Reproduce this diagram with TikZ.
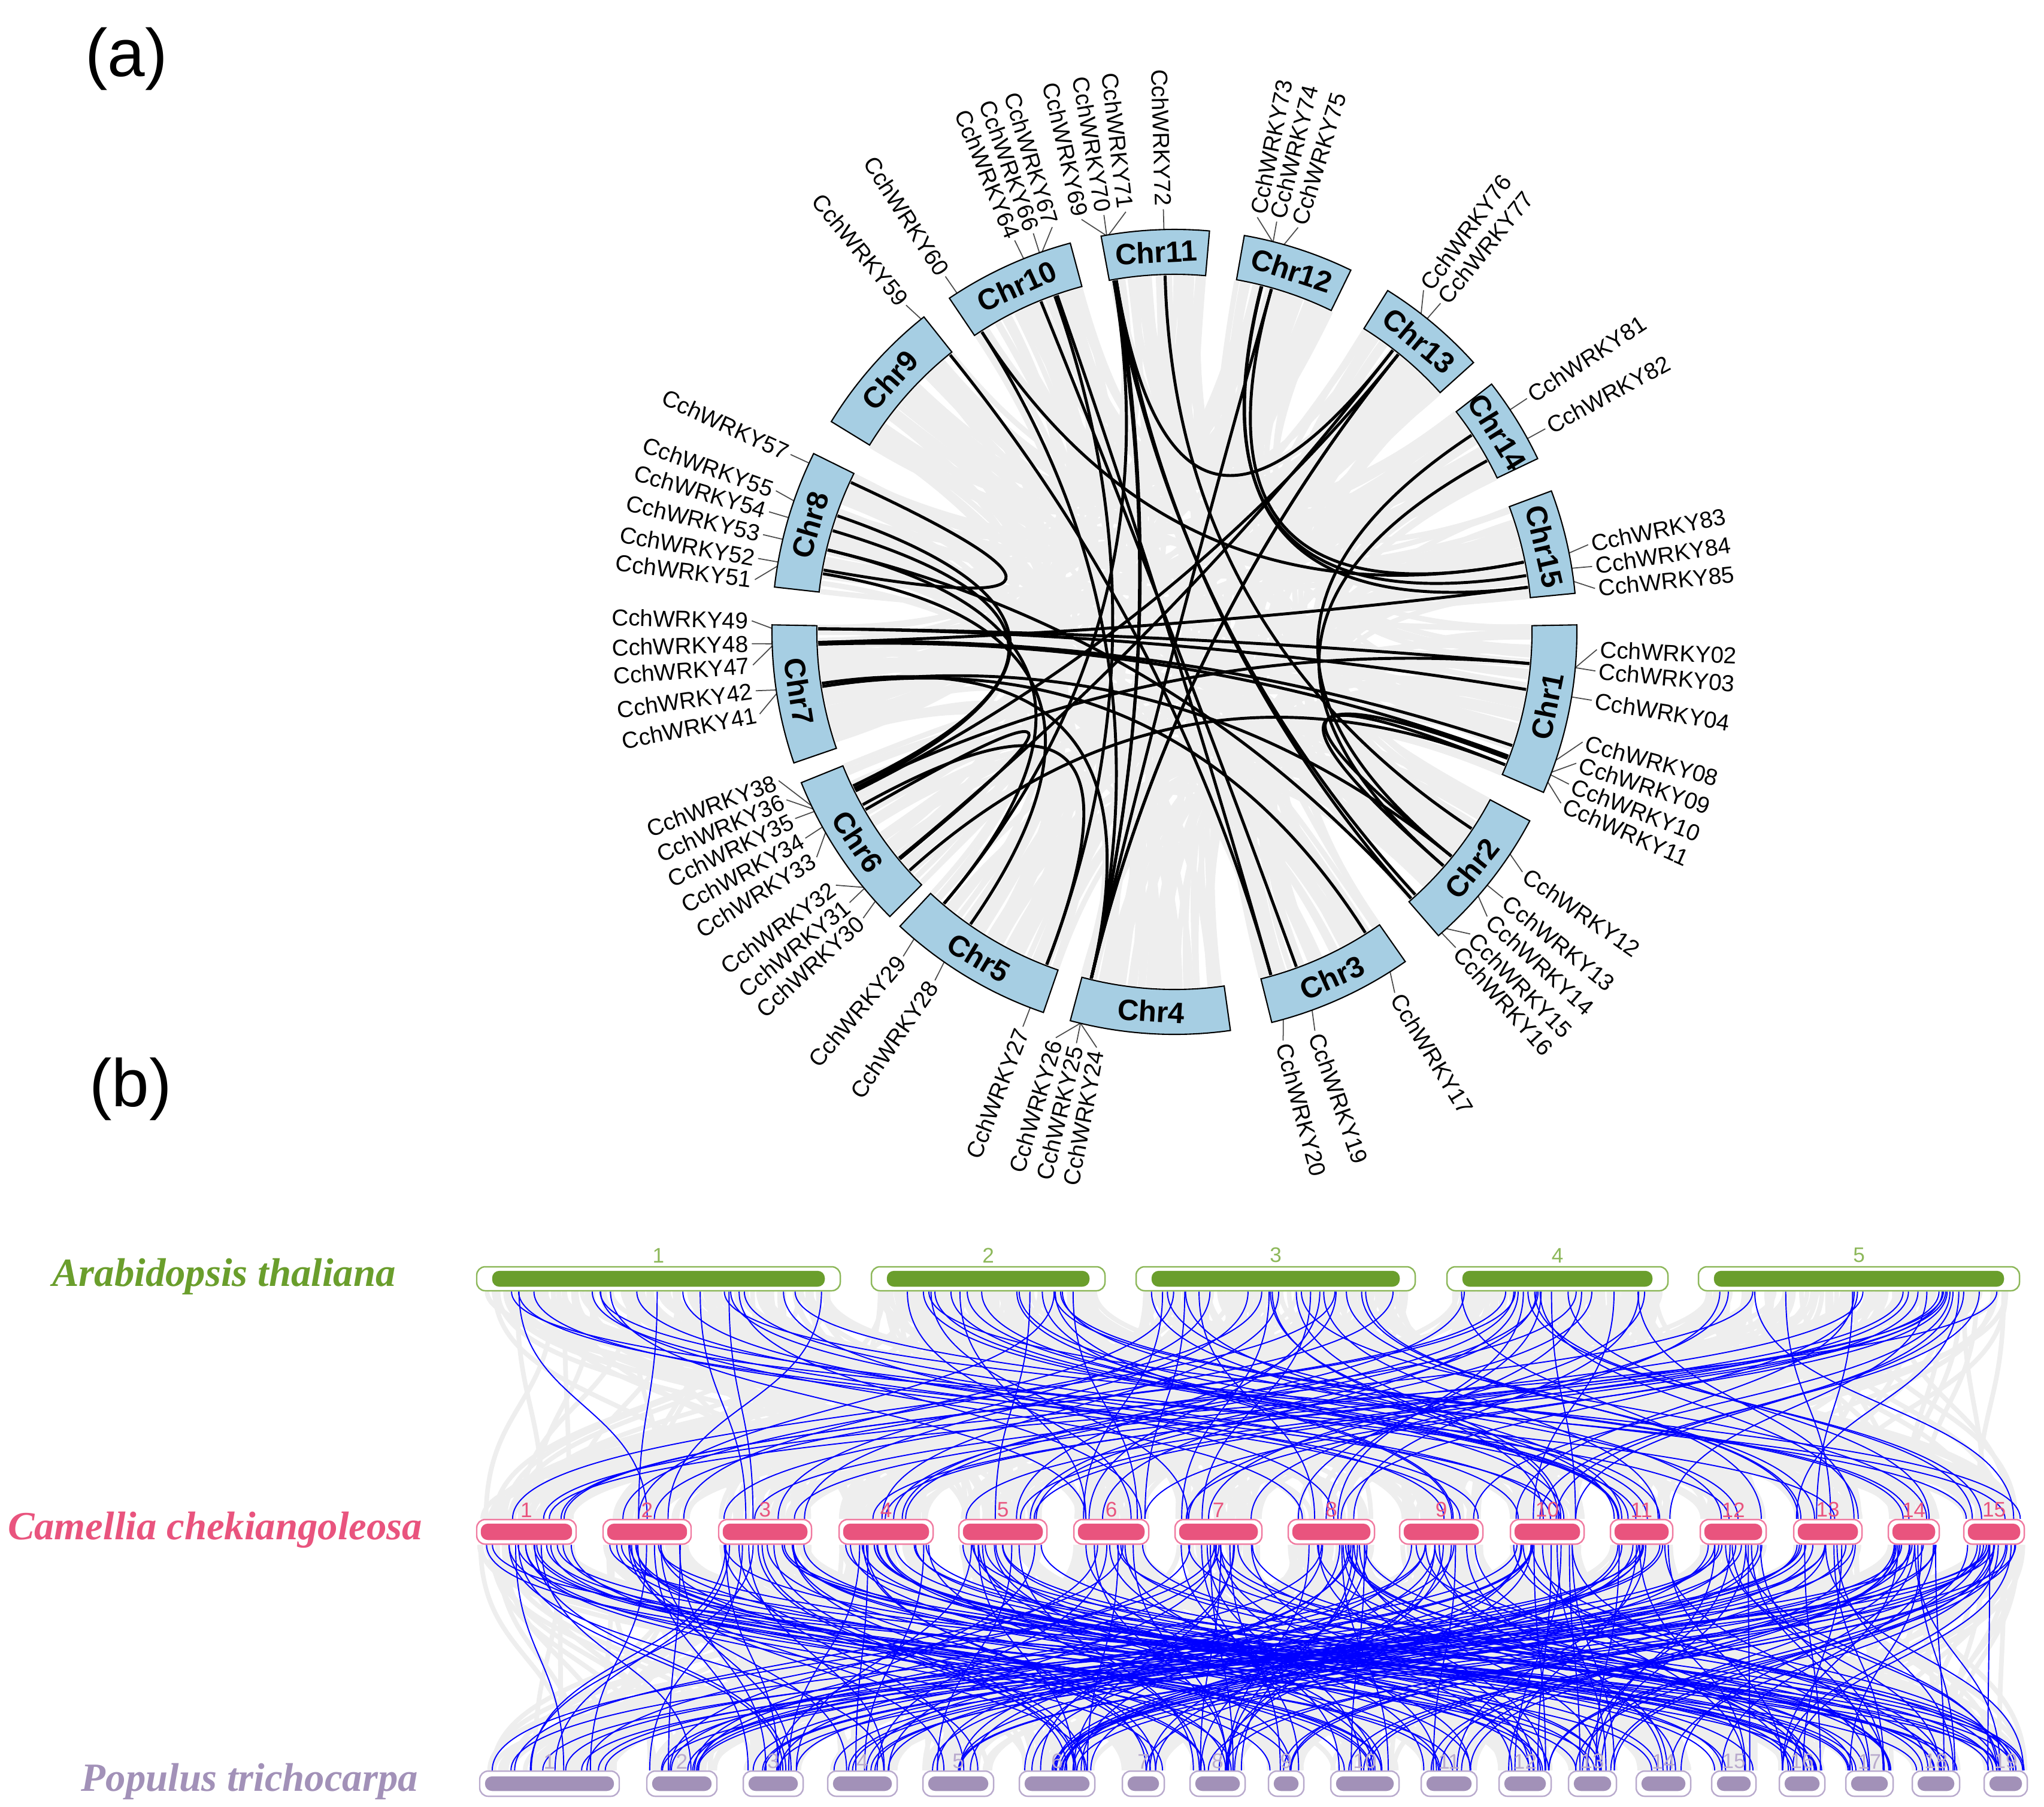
\documentclass[tikz,border=0pt]{standalone}
\usepackage{fontspec}
\setmainfont{Liberation Sans}
\newfontfamily\spfont{Liberation Serif}
\usetikzlibrary{calc,backgrounds}
\definecolor{chrblue}{RGB}{166,206,227}
\definecolor{linkgrey}{RGB}{238,238,238}
\definecolor{atgreen}{RGB}{106,158,44}
\definecolor{atline}{RGB}{141,184,90}
\definecolor{ccpink}{RGB}{233,84,126}
\definecolor{ccline}{RGB}{240,122,160}
\definecolor{ptpurple}{RGB}{162,145,184}
\definecolor{ptline}{RGB}{185,170,205}
\tikzset{
  chrbox/.style={draw=black, line width=0.6pt, fill=chrblue},
  chrtext/.style={font=\bfseries\fontsize{14}{16}\selectfont, inner sep=0pt},
  genetext/.style={font=\fontsize{11}{13}\selectfont, inner sep=1.5pt},
  leader/.style={draw=black!70, line width=0.5pt},
  greyarc/.style={draw=linkgrey, line width=2.5pt},
  duplink/.style={draw=black, line width=1.4pt},
  kbar/.style={draw=#1, line width=0.7pt, fill=white, rounded corners=4pt, inner sep=0pt},
  kin/.style={fill=#1, rounded corners=3.4pt},
  atnum/.style={font=\fontsize{10}{11}\selectfont, inner sep=0pt, text=atline, anchor=south},
  ccnum/.style={font=\fontsize{10}{11}\selectfont, inner sep=0pt, text=ccpink, anchor=south},
  ptnum/.style={font=\fontsize{10}{11}\selectfont, inner sep=0pt, text=ptline, anchor=south},
  species/.style={font=\spfont\bfseries\itshape\fontsize{19}{21}\selectfont, text=#1},
  panel/.style={font=\fontsize{32}{36}\selectfont},
  greysyn/.style={draw=linkgrey, line width=2.2pt},
  bluesyn/.style={draw=blue, line width=0.55pt},
}
\newcommand{\chrom}[3]{%
  \path[chrbox] (#2:5.97) arc[start angle=#2, end angle=#3, radius=5.97]
    -- (#3:6.72) arc[start angle=#3, end angle=#2, radius=6.72] -- cycle;
  \pgfmathsetmacro\chmid{(#2+#3)/2}
  \pgfmathtruncatemacro\chup{sin(\chmid)>0}
  \ifnum\chup=1 \pgfmathsetmacro\chrot{\chmid-90}\else\pgfmathsetmacro\chrot{\chmid+90}\fi
  \node[chrtext, rotate=\chrot] (#1) at (\chmid:6.345) {#1};}
\newcommand{\genelab}[3]{%
  \coordinate (i#3) at (#1:5.95);
  \pgfmathtruncatemacro\glft{cos(#2)<0}
  \ifnum\glft=1
    \node[genetext, anchor=east, rotate=#2+180] (g#3) at (#2:7.06) {CchWRKY#3};
    \path[leader] (#1:6.72) -- (g#3.east);
  \else
    \node[genetext, anchor=west, rotate=#2] (g#3) at (#2:7.06) {CchWRKY#3};
    \path[leader] (#1:6.72) -- (g#3.west);
  \fi}
\def\chrlo{{-23.5,-49,-76,-105,-133,-158,-181,153.7,128.5,105,85,64,42,25.5,5.5}}
\def\chrhi{{1,-28,-55,-82,-109,-135,-161,173.6,148.5,124,100.5,80,58,38,20.5}}

\begin{document}
\begin{tikzpicture}
\begin{pgfonlayer}{background}
\fill[white] (0,0) rectangle (34.13,-30.16);
\end{pgfonlayer}
\useasboundingbox (0,0) rectangle (34.13,-30.16);
\pgfmathsetseed{11}

\node[panel] (pa) at (2.11,-0.98) {(a)};
\node[panel] (pb) at (2.18,-18.18) {(b)};

\begin{scope}[shift={(19.61,-10.55)}]
\coordinate (O) at (0,0);
\foreach \k in {1,...,380}{
  \pgfmathtruncatemacro\ia{random(0,14)}
  \pgfmathtruncatemacro\ib{random(0,14)}
  \pgfmathsetmacro\lka{\chrlo[\ia]+rnd*(\chrhi[\ia]-\chrlo[\ia])}
  \pgfmathsetmacro\lkb{\chrlo[\ib]+rnd*(\chrhi[\ib]-\chrlo[\ib])}
  \path[greyarc] (\lka:5.95) .. controls (\lka:1.98) and (\lkb:1.98) .. (\lkb:5.95);
}

\foreach \ga/\gb/\gn in {-5.1/-2.4/02, -5.1/-5.3/03, -9.3/-9.3/04, -18.6/-15.1/08, -20.4/-18.1/09,
  -20.8/-21.1/10, -21.9/-23.9/11, -33.5/-34.6/12, -39/-39/13, -41/-42.3/14, -47.5/-45.6/15,
  -48.4/-48.3/16, -57.6/-58.6/17, -70/-70.6/19, -74.3/-75.1/20, -103.5/-100.6/24,
  -103.5/-103.4/25, -103.5/-106.3/26, -111/-111/27, -124.9/-124.5/28, -130.3/-129.9/29,
  205.6/200.6/38, 206.1/203.4/36, 206.5/206.2/35, 209/209.2/34, 209.9/212.2/33,
  219.4/216.8/32, 219.6/219.8/31, 222/222.6/30, 179.5/178.5/49, 181.7/181.6/48,
  182/184.5/47, 188.3/188/42, 188.8/191.2/41, 155.2/155.2/57, 161/160.5/55,
  163.5/163.5/54, 166.7/166.7/53, 170/170/52, 170.6/172.9/51, 129/129.4/59,
  122.7/122.8/60, 112/112.2/64, 109.6/109.5/66, 109.2/106.8/67, 99.8/102.7/69,
  99.7/99.6/70, 99.4/96.6/71, 91.5/91.5/72, 75.9/78.7/73, 75.8/76/74, 74.2/73/75,
  52.2/53.9/76, 51.1/51/77, 33.5/33.5/81, 28.7/28.7/82, 11.3/11.9/83, 9.1/8.9/84, 7.2/5.9/85}
  {\genelab{\ga}{\gb}{\gn}}

\foreach \u/\v in {57/52, 55/36, 54/38, 53/29, 51/28, 49/04, 48/08, 47/09, 42/24, 41/13,
  35/77, 34/27, 33/31, 32/76, 30/11, 36/02, 29/69, 27/66, 24/70, 25/60, 26/77, 25/71,
  20/59, 19/64, 17/41, 16/71, 15/69, 14/10, 13/11, 12/72, 16/53, 81/13, 82/14,
  73/84, 74/85, 75/83, 83/60, 03/49, 67/20, 76/71, 77/25, 75/26, 85/48}
  \path[duplink] (i\u) .. controls ($(i\u)!0.6667!(O)$) and ($(i\v)!0.6667!(O)$) .. (i\v);

\chrom{Chr1}{-23.5}{1}
\chrom{Chr2}{-49}{-28}
\chrom{Chr3}{-76}{-55}
\chrom{Chr4}{-105}{-82}
\chrom{Chr5}{-133}{-109}
\chrom{Chr6}{-158}{-135}
\chrom{Chr7}{-181}{-161}
\chrom{Chr8}{153.7}{173.6}
\chrom{Chr9}{128.5}{148.5}
\chrom{Chr10}{105}{124}
\chrom{Chr11}{85}{100.5}
\chrom{Chr12}{64}{80}
\chrom{Chr13}{42}{58}
\chrom{Chr14}{25.5}{38}
\chrom{Chr15}{5.5}{20.5}
\end{scope}

\node[species=atgreen] (sat) at (3.74,-21.31) {Arabidopsis thaliana};
\node[species=ccpink] (scc) at (3.59,-25.54) {Camellia chekiangoleosa};
\node[species=ptpurple] (spt) at (4.17,-29.74) {Populus trichocarpa};

\foreach \n/\xa/\xb in {1/7.96/14.03, 2/14.55/18.45, 3/18.97/23.63, 4/24.16/27.85, 5/28.36/33.72}{
  \pgfmathsetmacro\bw{\xb-\xa}
  \node[kbar=atline, minimum width=\bw cm, minimum height=0.40cm] (at\n) at ({(\xa+\xb)/2},-21.35) {};
  \fill[kin=atgreen] ($(at\n.south west)+(0.27,0.08)$) rectangle ($(at\n.north east)+(-0.27,-0.08)$);
  \node[atnum] (atn\n) at ($(at\n.north)+(0,0.05)$) {\n};
}
\foreach \n/\xa/\xb in {1/7.96/9.62, 2/10.07/11.54, 3/12.00/13.55, 4/14.01/15.58, 5/16.01/17.48,
  6/17.93/19.18, 7/19.62/21.07, 8/21.51/22.95, 9/23.37/24.76, 10/25.22/26.45, 11/26.89/27.93,
  12/28.39/29.49, 13/29.95/31.09, 14/31.53/32.38, 15/32.79/33.80}{
  \pgfmathsetmacro\bw{\xb-\xa}
  \node[kbar=ccline, minimum width=\bw cm, minimum height=0.41cm] (cc\n) at ({(\xa+\xb)/2},-25.575) {};
  \fill[kin=ccpink] ($(cc\n.south west)+(0.08,0.08)$) rectangle ($(cc\n.north east)+(-0.08,-0.08)$);
  \node[ccnum] (ccn\n) at ($(cc\n.north)+(0,0.02)$) {\n};
}
\foreach \n/\xa/\xb in {1/8.01/10.34, 2/10.80/11.97, 3/12.41/13.41, 4/13.82/14.98, 5/15.41/16.59,
  6/17.02/18.28, 7/18.74/19.44, 8/19.87/20.79, 9/21.18/21.77, 10/22.22/23.36, 11/23.73/24.66,
  12/25.03/25.90, 13/26.19/26.99, 14/27.32/28.23, 15/28.58/29.32, 16/29.71/30.47,
  17/30.82/31.61, 18/31.93/32.72, 19/33.13/33.85}{
  \pgfmathsetmacro\bw{\xb-\xa}
  \node[kbar=ptline, minimum width=\bw cm, minimum height=0.42cm] (pt\n) at ({(\xa+\xb)/2},-29.78) {};
  \fill[kin=ptpurple] ($(pt\n.south west)+(0.1,0.1)$) rectangle ($(pt\n.north east)+(-0.1,-0.1)$);
  \node[ptnum] (ptn\n) at ($(pt\n.north)+(0,0.02)$) {\n};
}

\begin{pgfonlayer}{background}
\foreach \k in {1,...,650}{
  \pgfmathtruncatemacro\ia{random(1,5)}
  \pgfmathtruncatemacro\ib{random(1,15)}
  \pgfmathsetmacro\ta{0.03+0.94*rnd}
  \pgfmathsetmacro\tb{0.03+0.94*rnd}
  \path[greysyn] ($(at\ia.south west)!\ta!(at\ia.south east)$) .. controls +(0,-1.9) and +(0,1.9) .. ($(cc\ib.north west)!\tb!(cc\ib.north east)$);
}
\foreach \k in {1,...,800}{
  \pgfmathtruncatemacro\ia{random(1,15)}
  \pgfmathtruncatemacro\ib{random(1,19)}
  \pgfmathsetmacro\ta{0.03+0.94*rnd}
  \pgfmathsetmacro\tb{0.03+0.94*rnd}
  \path[greysyn] ($(cc\ia.south west)!\ta!(cc\ia.south east)$) .. controls +(0,-1.9) and +(0,1.9) .. ($(pt\ib.north west)!\tb!(pt\ib.north east)$);
}
\foreach \k in {1,...,110}{
  \pgfmathtruncatemacro\ia{random(1,5)}
  \pgfmathtruncatemacro\ib{random(1,15)}
  \pgfmathsetmacro\ta{0.05+0.9*rnd}
  \pgfmathsetmacro\tb{0.05+0.9*rnd}
  \path[bluesyn] ($(at\ia.south west)!\ta!(at\ia.south east)$) .. controls +(0,-1.9) and +(0,1.9) .. ($(cc\ib.north west)!\tb!(cc\ib.north east)$);
}
\foreach \k in {1,...,260}{
  \pgfmathtruncatemacro\ia{random(1,15)}
  \pgfmathtruncatemacro\ib{random(1,19)}
  \pgfmathsetmacro\ta{0.05+0.9*rnd}
  \pgfmathsetmacro\tb{0.05+0.9*rnd}
  \path[bluesyn] ($(cc\ia.south west)!\ta!(cc\ia.south east)$) .. controls +(0,-1.9) and +(0,1.9) .. ($(pt\ib.north west)!\tb!(pt\ib.north east)$);
}
\end{pgfonlayer}
\end{tikzpicture}
\end{document}
